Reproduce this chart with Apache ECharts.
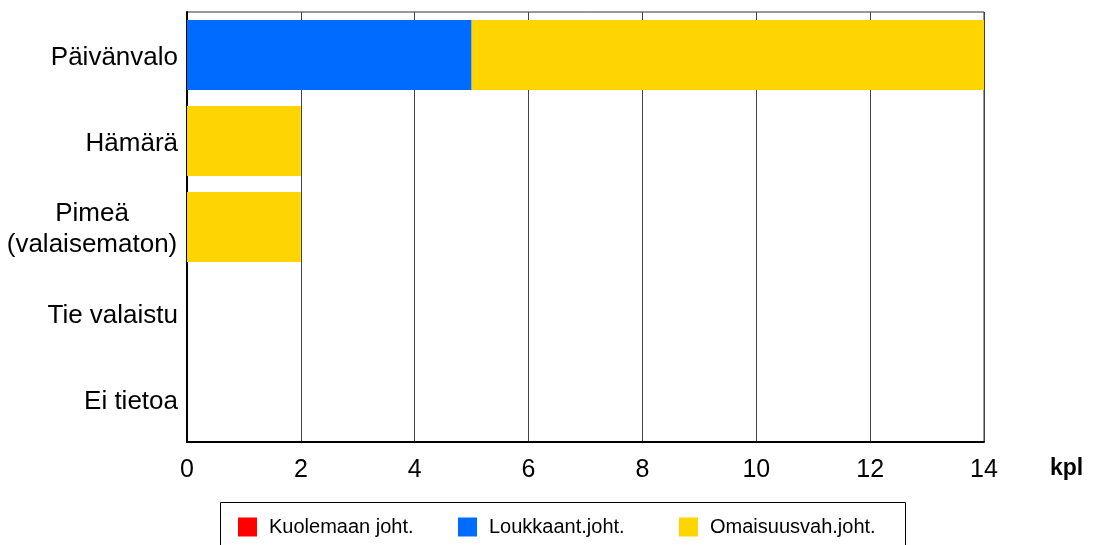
<!DOCTYPE html>
<html>
<head>
<meta charset="UTF-8">
<title>Valaistus</title>
<script src="https://cdn.jsdelivr.net/npm/echarts@6/dist/echarts.min.js"></script>
<style>
  html, body { margin: 0; padding: 0; background: #fff; }
  #main { width: 1097px; height: 545px; }
</style>
</head>
<body>
<div id="main"></div>
<script type="text/javascript">
// luokat ylhäältä alas
var categories = ['Päivänvalo', 'Hämärä', 'Pimeä\n(valaisematon)', 'Tie valaistu', 'Ei tietoa'];
var seriesNames = ['Kuolemaan joht.', 'Loukkaant.joht.', 'Omaisuusvah.joht.'];
var kuolemaan = [0, 0, 0, 0, 0];
var loukkaant = [5, 0, 0, 0, 0];
var omaisuus = [9, 2, 2, 0, 0];
var xTicks = [0, 2, 4, 6, 8, 10, 12, 14];
var colors = ['#FF0000', '#006CFF', '#FFD500'];

(function () {
  var myChart = echarts.init(document.getElementById('main'));
  var font = '"Liberation Sans", Arial, sans-serif';

  function legendAt(i, left) {
    return {
      data: [seriesNames[i]],
      left: left,
      top: 517,
      itemWidth: 19,
      itemHeight: 19,
      icon: 'rect',
      padding: 0,
      textStyle: { fontFamily: font, fontSize: 20, color: '#000', padding: [0, 0, 0, 7] }
    };
  }

  var option = {
    animation: false,
    backgroundColor: '#fff',
    grid: {
      left: 187, right: 1097 - 984, top: 12, bottom: 545 - 442,
      show: true, borderColor: '#333', borderWidth: 1
    },
    xAxis: {
      type: 'value',
      min: xTicks[0],
      max: xTicks[xTicks.length - 1],
      interval: 2,
      name: 'kpl',
      nameLocation: 'end',
      nameGap: 66,
      nameTextStyle: { fontFamily: font, fontSize: 23, fontWeight: 'bold', color: '#000', verticalAlign: 'top', padding: [15, 0, 0, 0] },
      axisLine: { show: true, lineStyle: { color: '#000', width: 2 } },
      axisTick: { show: false },
      axisLabel: { fontFamily: font, fontSize: 25, color: '#000', margin: 16 },
      splitLine: { show: true, lineStyle: { color: '#444', width: 1 } }
    },
    yAxis: {
      type: 'category',
      inverse: true,
      data: categories,
      axisLine: { show: true, lineStyle: { color: '#000', width: 2 } },
      axisTick: { show: false },
      axisLabel: {
        fontFamily: font, fontSize: 26, color: '#000', margin: 9,
        padding: [5, 0, 0, 0],
        formatter: function (v) {
          if (v.indexOf('\n') >= 0) {
            return v.split('\n').map(function (s) { return '{c|' + s + '}'; }).join('\n');
          }
          return v;
        },
        rich: {
          c: { fontFamily: font, fontSize: 26, color: '#000', width: 172, align: 'center', lineHeight: 31 }
        }
      }
    },
    legend: [legendAt(0, 238), legendAt(1, 458), legendAt(2, 679)],
    graphic: [{
      type: 'rect',
      shape: { x: 220.5, y: 502.5, width: 685, height: 60 },
      style: { fill: 'none', stroke: '#000', lineWidth: 1 },
      silent: true
    }],
    series: [
      { name: seriesNames[0], type: 'bar', stack: 'a', barWidth: 70, data: kuolemaan, itemStyle: { color: colors[0] } },
      { name: seriesNames[1], type: 'bar', stack: 'a', barWidth: 70, data: loukkaant, itemStyle: { color: colors[1] } },
      { name: seriesNames[2], type: 'bar', stack: 'a', barWidth: 70, data: omaisuus, itemStyle: { color: colors[2] } }
    ]
  };
  myChart.setOption(option);
})();
</script>
</body>
</html>
